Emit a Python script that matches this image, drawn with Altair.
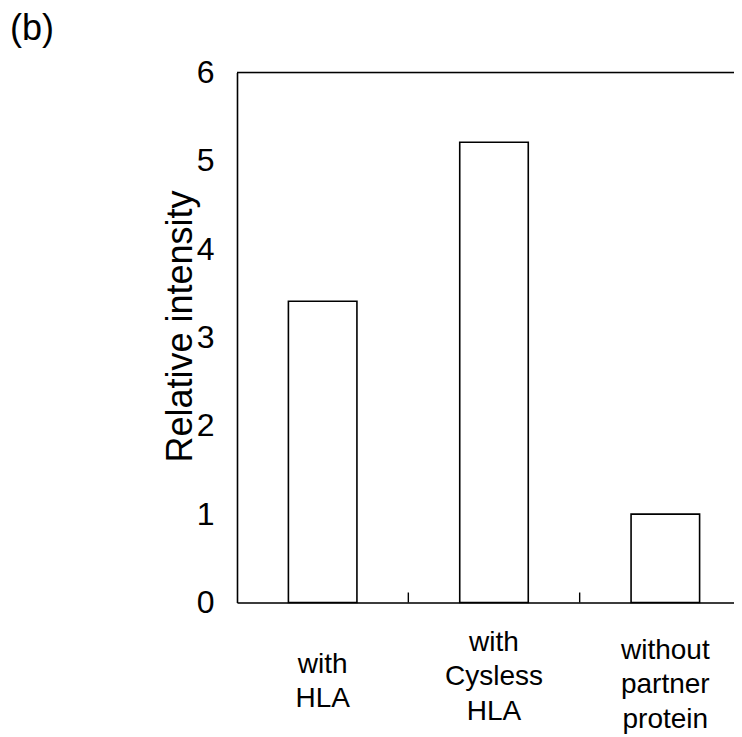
import altair as alt
import pandas as pd

categories = ["with|HLA", "with|Cysless|HLA", "without|partner|protein"]
values = [3.41, 5.21, 1.0]
y_ticks = [0, 1, 2, 3, 4, 5, 6]
inner_tick_cats = ["with|Cysless|HLA", "without|partner|protein"]
panel_label = "(b)"
y_title = "Relative intensity"

FONT = "Liberation Sans"

df = pd.DataFrame({"cat": categories, "val": values})
ticks_df = pd.DataFrame({"cat": inner_tick_cats})
top_df = pd.DataFrame({"top": [6]})
lab_df = pd.DataFrame({"t": [panel_label]})

xscale = alt.Scale(domain=categories, range=[0, 514], paddingInner=0, paddingOuter=0)
yscale = alt.Scale(domain=[0, 6], nice=False)

label_baseline = {
    "condition": [
        {"test": "datum.value == 'with|HLA'", "value": "top"},
        {"test": "datum.value == 'without|partner|protein'", "value": "middle"},
    ],
    "value": "alphabetic",
}

bars = alt.Chart(df).mark_bar(
    width={"band": 0.4}, fill="white", stroke="black", strokeWidth=1.6
).encode(
    x=alt.X("cat:N", scale=xscale, sort=categories,
            axis=alt.Axis(title=None, ticks=False, labelAngle=0,
                          labelExpr="split(datum.label, '|')",
                          labelFont=FONT, labelFontSize=28, labelColor="black",
                          labelLineHeight=34.5,
                          labelBaseline=label_baseline,
                          labelPadding=47.5, domainColor="black", domainWidth=1.6)),
    y=alt.Y("val:Q", scale=yscale,
            axis=alt.Axis(title=y_title, values=y_ticks, format="d", ticks=False, grid=False,
                          labelFont=FONT, labelFontSize=32, labelColor="black",
                          labelPadding=23, domainColor="black", domainWidth=1.6,
                          titleFont=FONT, titleFontSize=36, titleFontWeight="normal",
                          titleColor="black", titleX=-46, titleY=253.5,
                          titleBaseline="alphabetic")),
)

inner_ticks = alt.Chart(ticks_df).mark_rule(color="black", strokeWidth=1.4).encode(
    x=alt.X("cat:N", scale=xscale, sort=categories, bandPosition=0),
    y=alt.value(520),
    y2=alt.value(530),
)

top_line = alt.Chart(top_df).mark_rule(color="black", strokeWidth=1.6).encode(
    y=alt.Y("top:Q", scale=yscale),
)

label = alt.Chart(lab_df).mark_text(
    x=-227, y=-32.5, align="left", baseline="alphabetic",
    font=FONT, fontSize=36, color="black"
).encode(text="t:N")

chart = alt.layer(bars, inner_ticks, top_line, label).properties(
    width=497, height=530,
    autosize=alt.AutoSizeParams(type="none"),
    padding={"left": 229, "top": 64.5, "right": 0, "bottom": 131},
).configure_view(stroke=None).configure(background="white")

chart.save("out.html", embed_options={"renderer": "svg", "actions": False})
